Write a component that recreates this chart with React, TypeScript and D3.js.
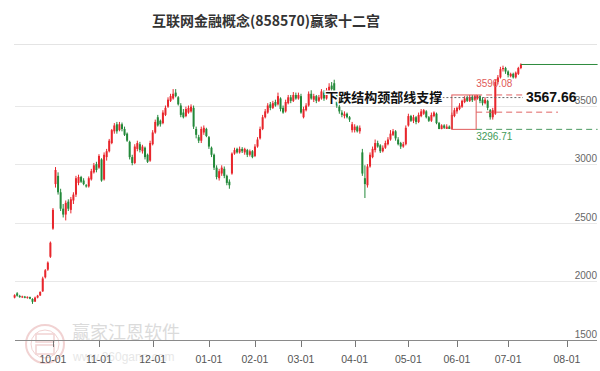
import React from "react";
import * as d3 from "d3";

const W = 600;
const H = 371;

// Month ticks: label and the trading-day index where each month starts
const monthLabels = ["10-01", "11-01", "12-01", "01-01", "02-01", "03-01", "04-01", "05-01", "06-01", "07-01", "08-01"];
const monthIndex = [15, 33, 54, 76, 94, 112, 133, 154, 173, 193, 216];

const yTicks = [1500, 2000, 2500, 3000, 3500];

// Daily OHLC of the index (one entry per trading day)
const opens = [
  1862, 1898, 1876, 1864, 1870, 1860, 1866, 1850, 1828, 1862,
  1880, 1915, 2035, 2100, 2210, 2450, 2830, 2900, 2760, 2620,
  2570, 2680, 2610, 2690, 2740, 2840, 2890, 2860, 2820, 2810,
  2870, 2930, 3000, 2970, 3040, 2870, 3060, 3110, 3180, 3280,
  3340, 3290, 3340, 3300, 3260, 3190, 3060, 3010, 3130, 3170,
  3110, 3140, 3080, 3030, 3170, 3270, 3400, 3370, 3350, 3420,
  3490, 3540, 3560, 3610, 3570, 3500, 3440, 3410, 3440, 3450,
  3480, 3300, 3230, 3200, 3270, 3300, 3230, 3140, 3080, 2970,
  2880, 2920, 2960, 2900, 2850, 2920, 3090, 3130, 3100, 3130,
  3100, 3120, 3080, 3110, 3070, 3150, 3220, 3300, 3400, 3440,
  3510, 3480, 3530, 3510, 3560, 3480, 3450, 3520, 3570, 3540,
  3590, 3560, 3580, 3400, 3460, 3500, 3600, 3550, 3580, 3540,
  3560, 3610, 3560, 3620, 3670, 3690, 3610, 3490, 3440, 3410,
  3430, 3400, 3290, 3290, 3320, 3280, 3100, 2880, 2820, 2980,
  3060, 3120, 3180, 3160, 3110, 3140, 3170, 3210, 3250, 3280,
  3210, 3180, 3150, 3170, 3330, 3410, 3370, 3400, 3360, 3410,
  3430, 3450, 3400, 3370, 3410, 3430, 3350, 3300, 3330, 3300,
  3320, 3300, 3410, 3450, 3470, 3490, 3530, 3570, 3540, 3575,
  3550, 3560, 3580, 3550, 3520, 3540, 3460, 3400, 3430, 3700,
  3740, 3810, 3820, 3790, 3750, 3770, 3740, 3770, 3820,
];
const highs = [
  1890, 1908, 1885, 1878, 1876, 1872, 1870, 1856, 1870, 1885,
  1915, 2040, 2105, 2170, 2340, 2625, 2975, 2930, 2790, 2660,
  2690, 2700, 2720, 2760, 2900, 2910, 2900, 2880, 2830, 2895,
  2960, 3010, 3020, 3085, 3050, 3100, 3130, 3215, 3300, 3350,
  3360, 3360, 3355, 3320, 3270, 3200, 3080, 3170, 3200, 3190,
  3165, 3150, 3090, 3200, 3290, 3380, 3420, 3380, 3460, 3500,
  3570, 3600, 3640, 3640, 3580, 3520, 3470, 3490, 3500, 3510,
  3500, 3320, 3250, 3320, 3330, 3310, 3240, 3150, 3090, 2990,
  2960, 2990, 2980, 2910, 2870, 3100, 3140, 3140, 3150, 3145,
  3140, 3130, 3125, 3120, 3170, 3230, 3320, 3420, 3470, 3520,
  3530, 3540, 3550, 3610, 3570, 3500, 3550, 3590, 3590, 3615,
  3610, 3610, 3600, 3490, 3520, 3620, 3630, 3600, 3590, 3590,
  3640, 3630, 3650, 3690, 3700, 3720, 3620, 3510, 3460, 3450,
  3440, 3410, 3360, 3340, 3330, 3330, 3130, 2990, 3000, 3100,
  3150, 3210, 3200, 3170, 3160, 3200, 3230, 3290, 3300, 3290,
  3230, 3190, 3190, 3330, 3430, 3420, 3420, 3410, 3440, 3470,
  3470, 3460, 3410, 3440, 3450, 3440, 3360, 3340, 3340, 3340,
  3330, 3440, 3480, 3490, 3520, 3550, 3580, 3585, 3590, 3590,
  3590, 3590, 3590, 3570, 3570, 3550, 3470, 3480, 3720, 3760,
  3830, 3840, 3830, 3800, 3780, 3780, 3790, 3830, 3860,
];
const lows = [
  1855, 1870, 1860, 1858, 1856, 1852, 1848, 1808, 1824, 1855,
  1875, 1910, 2025, 2090, 2200, 2440, 2800, 2740, 2600, 2545,
  2520, 2600, 2580, 2660, 2720, 2820, 2840, 2820, 2800, 2800,
  2860, 2920, 2930, 2960, 2850, 2860, 3030, 3100, 3170, 3260,
  3260, 3280, 3280, 3240, 3190, 3040, 2990, 3000, 3110, 3100,
  3090, 3040, 3010, 3020, 3160, 3260, 3320, 3320, 3340, 3410,
  3480, 3530, 3550, 3570, 3500, 3400, 3390, 3400, 3430, 3440,
  3300, 3220, 3180, 3180, 3250, 3230, 3130, 3060, 2950, 2870,
  2860, 2900, 2880, 2820, 2790, 2910, 3080, 3090, 3090, 3095,
  3080, 3060, 3065, 3050, 3060, 3140, 3210, 3290, 3390, 3430,
  3460, 3470, 3490, 3500, 3450, 3430, 3440, 3510, 3520, 3530,
  3550, 3550, 3430, 3390, 3450, 3490, 3550, 3530, 3520, 3530,
  3550, 3540, 3550, 3610, 3620, 3610, 3480, 3430, 3400, 3390,
  3390, 3360, 3270, 3270, 3270, 3260, 2900, 2711, 2800, 2970,
  3050, 3100, 3140, 3095, 3100, 3130, 3160, 3200, 3240, 3200,
  3160, 3130, 3140, 3160, 3320, 3360, 3350, 3340, 3350, 3400,
  3420, 3390, 3360, 3360, 3400, 3340, 3298, 3297, 3300, 3305,
  3300, 3297, 3400, 3430, 3460, 3480, 3520, 3530, 3530, 3530,
  3540, 3550, 3520, 3500, 3510, 3460, 3380, 3380, 3420, 3680,
  3730, 3790, 3770, 3740, 3740, 3730, 3730, 3760, 3810,
];
const closes = [
  1882, 1878, 1866, 1872, 1860, 1868, 1852, 1826, 1862, 1878,
  1910, 2025, 2095, 2160, 2330, 2610, 2950, 2760, 2620, 2570,
  2670, 2620, 2700, 2740, 2880, 2890, 2850, 2830, 2810, 2880,
  2940, 2990, 2950, 3070, 2860, 3080, 3110, 3200, 3290, 3330,
  3280, 3340, 3300, 3250, 3200, 3060, 3010, 3150, 3180, 3120,
  3150, 3060, 3020, 3180, 3270, 3360, 3330, 3340, 3440, 3480,
  3550, 3580, 3600, 3580, 3510, 3420, 3400, 3470, 3480, 3490,
  3320, 3250, 3200, 3300, 3310, 3240, 3150, 3080, 2970, 2890,
  2940, 2970, 2900, 2840, 2820, 3090, 3120, 3100, 3130, 3110,
  3130, 3080, 3110, 3060, 3150, 3210, 3300, 3400, 3450, 3500,
  3480, 3520, 3500, 3580, 3470, 3440, 3530, 3570, 3540, 3590,
  3560, 3590, 3440, 3470, 3500, 3600, 3560, 3580, 3540, 3570,
  3620, 3560, 3630, 3660, 3640, 3620, 3500, 3450, 3420, 3430,
  3400, 3380, 3340, 3320, 3280, 3310, 2920, 2830, 2980, 3080,
  3130, 3180, 3150, 3110, 3140, 3180, 3210, 3260, 3280, 3220,
  3170, 3150, 3170, 3310, 3410, 3370, 3400, 3360, 3420, 3450,
  3460, 3400, 3370, 3420, 3440, 3350, 3300, 3330, 3310, 3320,
  3300, 3420, 3460, 3480, 3500, 3540, 3560, 3540, 3570, 3545,
  3580, 3585, 3540, 3520, 3550, 3480, 3400, 3460, 3700, 3740,
  3810, 3820, 3790, 3760, 3770, 3740, 3780, 3820, 3850,
];

// 赢家十二宫 levels
const boxHigh = 3590.08;
const boxLow = 3296.71;
const necklineValue = 3567.66;
const necklineText = "下跌结构颈部线支撑";
const boxFrom = 171;
const boxTo = 180.5;
const necklineFrom = 167.3;
const necklineTo = 198.8;
const highLineTo = 198.8;
const midLineTo = 212.5;
const lastIndexMax = 228;

const UP = "#e8262c";
const DOWN = "#23893a";
const LABEL_FONT = "'Liberation Sans', Arial, sans-serif";
const CJK_FONT = "'Noto Sans CJK SC', 'Noto Sans', sans-serif";

export default function App() {
  const plotLeft = 14.6;
  const plotRight = 597.6;
  const x = d3.scaleLinear().domain([0, lastIndexMax]).range([plotLeft, plotRight]);
  const y = d3.scaleLinear().domain([1500, 4000]).range([340, 46.9]);

  const lastI = closes.length - 1;
  const lastClose = closes[lastI];
  const midValue = (boxHigh + boxLow) / 2;

  return (
    <svg
      width={W}
      height={H}
      viewBox={`0 0 ${W} ${H}`}
      style={{ position: "absolute", left: 0, top: 0, background: "#fff" }}
    >
      <rect x={0} y={0} width={W} height={H} fill="#fff" />

      {/* title */}
      <text
        x={266}
        y={26}
        textAnchor="middle"
        fontFamily={CJK_FONT}
        fontWeight="bold"
        fontSize={14}
        fill="#333"
      >
        互联网金融概念(858570)赢家十二宫
      </text>
      <line x1={14} x2={597} y1={44.5} y2={44.5} stroke="#e4e4e4" />

      {/* watermark */}
      <g opacity={0.35}>
        <circle cx={45} cy={344} r={19} fill="none" stroke="#d98080" strokeWidth={2} />
        <circle cx={45} cy={344} r={14} fill="none" stroke="#d98080" strokeWidth={1} />
        <rect x={36} y={334} width={18} height={8} fill="none" stroke="#d98080" strokeWidth={1.5} />
        <rect x={36} y={345} width={18} height={9} fill="none" stroke="#d98080" strokeWidth={1.5} />
        <text x={72} y={339} fontFamily={CJK_FONT} fontSize={18} fill="#999">
          赢家江恩软件
        </text>
        <text x={73} y={361} fontFamily={LABEL_FONT} fontSize={12} fill="#bbb">
          www.360gann.com
        </text>
      </g>

      {/* grid */}
      {yTicks.slice(1).map((v) => (
        <line key={v} x1={15} x2={597} y1={Math.round(y(v)) + 0.5} y2={Math.round(y(v)) + 0.5} stroke="#e8e8e8" />
      ))}
      {yTicks.map((v) => (
        <text
          key={"l" + v}
          x={597}
          y={y(v) - 2}
          textAnchor="end"
          fontFamily={LABEL_FONT}
          fontSize={10}
          fill="#666"
        >
          {v}
        </text>
      ))}

      {/* x axis */}
      <line x1={15} x2={597} y1={340.5} y2={340.5} stroke="#8a8a8a" />
      {monthIndex.map((mi, k) => (
        <g key={monthLabels[k]}>
          <line x1={Math.round(x(mi)) + 0.5} x2={Math.round(x(mi)) + 0.5} y1={341} y2={347} stroke="#777" />
          <text
            x={x(mi)}
            y={363}
            textAnchor="middle"
            fontFamily={LABEL_FONT}
            fontSize={10.5}
            fill="#555"
          >
            {monthLabels[k]}
          </text>
        </g>
      ))}

      {/* candles */}
      {closes.map((c, i) => {
        const o = opens[i];
        const up = c >= o;
        const col = up ? UP : DOWN;
        const cx = x(i);
        const top = y(Math.max(o, c));
        const bh = Math.max(1, Math.abs(y(o) - y(c)));
        return (
          <g key={i}>
            <line x1={cx} x2={cx} y1={y(highs[i])} y2={y(lows[i])} stroke={col} strokeWidth={1} />
            <rect x={cx - 1} y={top} width={2} height={bh} fill={col} />
          </g>
        );
      })}

      {/* last price line */}
      <line x1={x(lastI)} x2={x(lastIndexMax)} y1={y(lastClose)} y2={y(lastClose)} stroke="#2e8b3e" strokeWidth={1} />

      {/* box and levels */}
      <rect
        x={x(boxFrom)}
        y={y(boxHigh)}
        width={x(boxTo) - x(boxFrom)}
        height={y(boxLow) - y(boxHigh)}
        fill="none"
        stroke="#e05a5a"
        strokeWidth={1}
      />
      <line x1={x(boxTo)} x2={x(highLineTo)} y1={y(boxHigh)} y2={y(boxHigh)} stroke="#e06464" strokeDasharray="6,4" />
      <line x1={x(boxTo)} x2={x(midLineTo)} y1={y(midValue)} y2={y(midValue)} stroke="#e06464" strokeDasharray="6,4" />
      <line x1={x(boxTo)} x2={x(lastIndexMax)} y1={y(boxLow)} y2={y(boxLow)} stroke="#4a9a60" strokeDasharray="6,4" />
      <line
        x1={x(necklineFrom)}
        x2={x(necklineTo)}
        y1={y(necklineValue)}
        y2={y(necklineValue)}
        stroke="#666"
        strokeDasharray="2,2"
      />

      <text x={x(boxTo)} y={y(boxHigh) - 8} fontFamily={LABEL_FONT} fontSize={10} fill="#e05a5a">
        {boxHigh.toFixed(2)}
      </text>
      <text x={x(boxTo)} y={y(boxLow) + 11} fontFamily={LABEL_FONT} fontSize={10} fill="#3f9a5a">
        {boxLow.toFixed(2)}
      </text>
      <text
        x={x(necklineTo) + 3}
        y={y(necklineValue) + 4}
        fontFamily={LABEL_FONT}
        fontWeight="bold"
        fontSize={14}
        fill="#111"
      >
        {necklineValue.toFixed(2)}
      </text>
      <text
        x={x(necklineFrom)}
        y={y(necklineValue) + 4.5}
        textAnchor="end"
        fontFamily={CJK_FONT}
        fontWeight="bold"
        fontSize={13}
        fill="#111"
        stroke="#fff"
        strokeWidth={3}
        paintOrder="stroke"
      >
        {necklineText}
      </text>
    </svg>
  );
}
